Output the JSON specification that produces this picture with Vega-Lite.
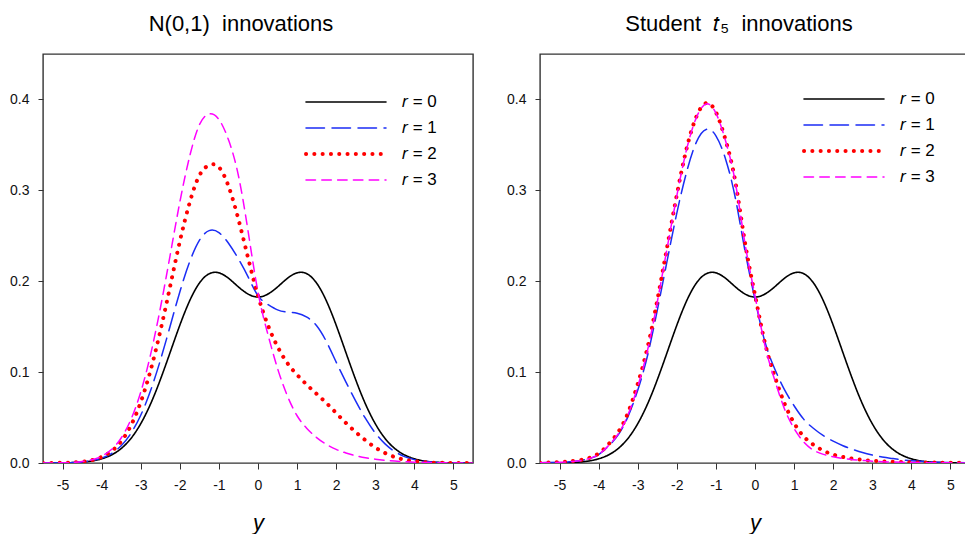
{
"$schema": "https://vega.github.io/schema/vega-lite/v6.json",
"background": "white",
"padding": {"left": 8, "top": 12, "right": 0, "bottom": 0},
"bounds": "flush",
"spacing": 67,
"config": {
  "font": "Liberation Sans",
  "view": {"stroke": "#333", "strokeWidth": 1.4},
  "title": {"font": "Liberation Sans", "fontSize": 22, "fontWeight": "normal", "color": "black", "offset": 18},
  "axis": {"domain": false, "grid": false, "tickColor": "#333", "tickSize": 5, "labelFont": "Liberation Sans", "labelFontSize": 14, "labelColor": "#111", "labelPadding": 8}
},
"datasets": {"d": [
{"p":"N","r":0,"y":-5.5,"d":0},{"p":"N","r":0,"y":-5,"d":0.0002},{"p":"N","r":0,"y":-4.75,"d":0.0004},{"p":"N","r":0,"y":-4.5,"d":0.001},{"p":"N","r":0,"y":-4.25,"d":0.0022},{"p":"N","r":0,"y":-4,"d":0.0046},{"p":"N","r":0,"y":-3.75,"d":0.0088},{"p":"N","r":0,"y":-3.5,"d":0.0159},{"p":"N","r":0,"y":-3.25,"d":0.027},{"p":"N","r":0,"y":-3,"d":0.0432},{"p":"N","r":0,"y":-2.75,"d":0.0648},{"p":"N","r":0,"y":-2.5,"d":0.0915},{"p":"N","r":0,"y":-2.25,"d":0.1214},{"p":"N","r":0,"y":-2,"d":0.1516},{"p":"N","r":0,"y":-1.75,"d":0.1783},{"p":"N","r":0,"y":-1.5,"d":0.1979},{"p":"N","r":0,"y":-1.25,"d":0.2082},{"p":"N","r":0,"y":-1,"d":0.2092},{"p":"N","r":0,"y":-0.75,"d":0.2031},{"p":"N","r":0,"y":-0.5,"d":0.1937},{"p":"N","r":0,"y":-0.25,"d":0.1858},{"p":"N","r":0,"y":0,"d":0.1826},{"p":"N","r":0,"y":0.25,"d":0.1858},{"p":"N","r":0,"y":0.5,"d":0.1937},{"p":"N","r":0,"y":0.75,"d":0.2031},{"p":"N","r":0,"y":1,"d":0.2092},{"p":"N","r":0,"y":1.25,"d":0.2082},{"p":"N","r":0,"y":1.5,"d":0.1979},{"p":"N","r":0,"y":1.75,"d":0.1783},{"p":"N","r":0,"y":2,"d":0.1516},{"p":"N","r":0,"y":2.25,"d":0.1214},{"p":"N","r":0,"y":2.5,"d":0.0915},{"p":"N","r":0,"y":2.75,"d":0.0648},{"p":"N","r":0,"y":3,"d":0.0432},{"p":"N","r":0,"y":3.25,"d":0.027},{"p":"N","r":0,"y":3.5,"d":0.0159},{"p":"N","r":0,"y":3.75,"d":0.0088},{"p":"N","r":0,"y":4,"d":0.0046},{"p":"N","r":0,"y":4.25,"d":0.0022},{"p":"N","r":0,"y":4.5,"d":0.001},{"p":"N","r":0,"y":4.75,"d":0.0004},{"p":"N","r":0,"y":5,"d":0.0002},{"p":"N","r":0,"y":5.5,"d":0},
{"p":"N","r":1,"y":-5.5,"d":0},{"p":"N","r":1,"y":-5,"d":0.0002},{"p":"N","r":1,"y":-4.75,"d":0.0005},{"p":"N","r":1,"y":-4.5,"d":0.0012},{"p":"N","r":1,"y":-4.25,"d":0.0026},{"p":"N","r":1,"y":-4,"d":0.0054},{"p":"N","r":1,"y":-3.75,"d":0.0104},{"p":"N","r":1,"y":-3.5,"d":0.019},{"p":"N","r":1,"y":-3.25,"d":0.0327},{"p":"N","r":1,"y":-3,"d":0.0526},{"p":"N","r":1,"y":-2.75,"d":0.0794},{"p":"N","r":1,"y":-2.5,"d":0.1127},{"p":"N","r":1,"y":-2.25,"d":0.1502},{"p":"N","r":1,"y":-2,"d":0.1882},{"p":"N","r":1,"y":-1.75,"d":0.2211},{"p":"N","r":1,"y":-1.5,"d":0.2449},{"p":"N","r":1,"y":-1.25,"d":0.2557},{"p":"N","r":1,"y":-1,"d":0.2535},{"p":"N","r":1,"y":-0.75,"d":0.2415},{"p":"N","r":1,"y":-0.5,"d":0.2245},{"p":"N","r":1,"y":-0.25,"d":0.2045},{"p":"N","r":1,"y":0,"d":0.184},{"p":"N","r":1,"y":0.25,"d":0.1745},{"p":"N","r":1,"y":0.5,"d":0.1685},{"p":"N","r":1,"y":0.75,"d":0.166},{"p":"N","r":1,"y":1,"d":0.1648},{"p":"N","r":1,"y":1.25,"d":0.1605},{"p":"N","r":1,"y":1.5,"d":0.151},{"p":"N","r":1,"y":1.75,"d":0.1335},{"p":"N","r":1,"y":2,"d":0.111},{"p":"N","r":1,"y":2.25,"d":0.089},{"p":"N","r":1,"y":2.5,"d":0.068},{"p":"N","r":1,"y":2.75,"d":0.049},{"p":"N","r":1,"y":3,"d":0.033},{"p":"N","r":1,"y":3.25,"d":0.021},{"p":"N","r":1,"y":3.5,"d":0.0125},{"p":"N","r":1,"y":3.75,"d":0.007},{"p":"N","r":1,"y":4,"d":0.0037},{"p":"N","r":1,"y":4.25,"d":0.0018},{"p":"N","r":1,"y":4.5,"d":0.0008},{"p":"N","r":1,"y":4.75,"d":0.0003},{"p":"N","r":1,"y":5,"d":0.0001},{"p":"N","r":1,"y":5.5,"d":0},
{"p":"N","r":2,"y":-5.5,"d":0},{"p":"N","r":2,"y":-5,"d":0.0002},{"p":"N","r":2,"y":-4.75,"d":0.0006},{"p":"N","r":2,"y":-4.5,"d":0.0014},{"p":"N","r":2,"y":-4.25,"d":0.0031},{"p":"N","r":2,"y":-4,"d":0.0066},{"p":"N","r":2,"y":-3.75,"d":0.0129},{"p":"N","r":2,"y":-3.5,"d":0.0238},{"p":"N","r":2,"y":-3.25,"d":0.0413},{"p":"N","r":2,"y":-3,"d":0.0669},{"p":"N","r":2,"y":-2.75,"d":0.1017},{"p":"N","r":2,"y":-2.5,"d":0.1449},{"p":"N","r":2,"y":-2.25,"d":0.1939},{"p":"N","r":2,"y":-2,"d":0.2437},{"p":"N","r":2,"y":-1.75,"d":0.2862},{"p":"N","r":2,"y":-1.5,"d":0.3163},{"p":"N","r":2,"y":-1.25,"d":0.3277},{"p":"N","r":2,"y":-1,"d":0.3255},{"p":"N","r":2,"y":-0.75,"d":0.304},{"p":"N","r":2,"y":-0.5,"d":0.268},{"p":"N","r":2,"y":-0.25,"d":0.225},{"p":"N","r":2,"y":0,"d":0.184},{"p":"N","r":2,"y":0.25,"d":0.152},{"p":"N","r":2,"y":0.5,"d":0.128},{"p":"N","r":2,"y":0.75,"d":0.11},{"p":"N","r":2,"y":1,"d":0.097},{"p":"N","r":2,"y":1.25,"d":0.086},{"p":"N","r":2,"y":1.5,"d":0.076},{"p":"N","r":2,"y":1.75,"d":0.066},{"p":"N","r":2,"y":2,"d":0.055},{"p":"N","r":2,"y":2.25,"d":0.044},{"p":"N","r":2,"y":2.5,"d":0.034},{"p":"N","r":2,"y":2.75,"d":0.025},{"p":"N","r":2,"y":3,"d":0.017},{"p":"N","r":2,"y":3.25,"d":0.011},{"p":"N","r":2,"y":3.5,"d":0.0065},{"p":"N","r":2,"y":3.75,"d":0.0036},{"p":"N","r":2,"y":4,"d":0.0019},{"p":"N","r":2,"y":4.25,"d":0.0009},{"p":"N","r":2,"y":4.5,"d":0.0004},{"p":"N","r":2,"y":4.75,"d":0.0002},{"p":"N","r":2,"y":5,"d":0.0001},{"p":"N","r":2,"y":5.5,"d":0},
{"p":"N","r":3,"y":-5.5,"d":0},{"p":"N","r":3,"y":-5,"d":0.0002},{"p":"N","r":3,"y":-4.75,"d":0.0006},{"p":"N","r":3,"y":-4.5,"d":0.0016},{"p":"N","r":3,"y":-4.25,"d":0.0035},{"p":"N","r":3,"y":-4,"d":0.0075},{"p":"N","r":3,"y":-3.75,"d":0.0148},{"p":"N","r":3,"y":-3.5,"d":0.0275},{"p":"N","r":3,"y":-3.25,"d":0.048},{"p":"N","r":3,"y":-3,"d":0.078},{"p":"N","r":3,"y":-2.75,"d":0.119},{"p":"N","r":3,"y":-2.5,"d":0.17},{"p":"N","r":3,"y":-2.25,"d":0.228},{"p":"N","r":3,"y":-2,"d":0.287},{"p":"N","r":3,"y":-1.75,"d":0.337},{"p":"N","r":3,"y":-1.5,"d":0.372},{"p":"N","r":3,"y":-1.25,"d":0.384},{"p":"N","r":3,"y":-1,"d":0.378},{"p":"N","r":3,"y":-0.75,"d":0.355},{"p":"N","r":3,"y":-0.5,"d":0.316},{"p":"N","r":3,"y":-0.25,"d":0.254},{"p":"N","r":3,"y":0,"d":0.188},{"p":"N","r":3,"y":0.25,"d":0.142},{"p":"N","r":3,"y":0.5,"d":0.104},{"p":"N","r":3,"y":0.75,"d":0.074},{"p":"N","r":3,"y":1,"d":0.052},{"p":"N","r":3,"y":1.25,"d":0.038},{"p":"N","r":3,"y":1.5,"d":0.028},{"p":"N","r":3,"y":1.75,"d":0.0205},{"p":"N","r":3,"y":2,"d":0.015},{"p":"N","r":3,"y":2.25,"d":0.011},{"p":"N","r":3,"y":2.5,"d":0.008},{"p":"N","r":3,"y":2.75,"d":0.0058},{"p":"N","r":3,"y":3,"d":0.0042},{"p":"N","r":3,"y":3.25,"d":0.003},{"p":"N","r":3,"y":3.5,"d":0.0021},{"p":"N","r":3,"y":3.75,"d":0.0014},{"p":"N","r":3,"y":4,"d":0.0009},{"p":"N","r":3,"y":4.25,"d":0.0006},{"p":"N","r":3,"y":4.5,"d":0.0004},{"p":"N","r":3,"y":4.75,"d":0.0002},{"p":"N","r":3,"y":5,"d":0.0001},{"p":"N","r":3,"y":5.5,"d":0},
{"p":"T","r":0,"y":-5.5,"d":0},{"p":"T","r":0,"y":-5,"d":0.0002},{"p":"T","r":0,"y":-4.75,"d":0.0004},{"p":"T","r":0,"y":-4.5,"d":0.001},{"p":"T","r":0,"y":-4.25,"d":0.0022},{"p":"T","r":0,"y":-4,"d":0.0046},{"p":"T","r":0,"y":-3.75,"d":0.0088},{"p":"T","r":0,"y":-3.5,"d":0.0159},{"p":"T","r":0,"y":-3.25,"d":0.027},{"p":"T","r":0,"y":-3,"d":0.0432},{"p":"T","r":0,"y":-2.75,"d":0.0648},{"p":"T","r":0,"y":-2.5,"d":0.0915},{"p":"T","r":0,"y":-2.25,"d":0.1214},{"p":"T","r":0,"y":-2,"d":0.1516},{"p":"T","r":0,"y":-1.75,"d":0.1783},{"p":"T","r":0,"y":-1.5,"d":0.1979},{"p":"T","r":0,"y":-1.25,"d":0.2082},{"p":"T","r":0,"y":-1,"d":0.2092},{"p":"T","r":0,"y":-0.75,"d":0.2031},{"p":"T","r":0,"y":-0.5,"d":0.1937},{"p":"T","r":0,"y":-0.25,"d":0.1858},{"p":"T","r":0,"y":0,"d":0.1826},{"p":"T","r":0,"y":0.25,"d":0.1858},{"p":"T","r":0,"y":0.5,"d":0.1937},{"p":"T","r":0,"y":0.75,"d":0.2031},{"p":"T","r":0,"y":1,"d":0.2092},{"p":"T","r":0,"y":1.25,"d":0.2082},{"p":"T","r":0,"y":1.5,"d":0.1979},{"p":"T","r":0,"y":1.75,"d":0.1783},{"p":"T","r":0,"y":2,"d":0.1516},{"p":"T","r":0,"y":2.25,"d":0.1214},{"p":"T","r":0,"y":2.5,"d":0.0915},{"p":"T","r":0,"y":2.75,"d":0.0648},{"p":"T","r":0,"y":3,"d":0.0432},{"p":"T","r":0,"y":3.25,"d":0.027},{"p":"T","r":0,"y":3.5,"d":0.0159},{"p":"T","r":0,"y":3.75,"d":0.0088},{"p":"T","r":0,"y":4,"d":0.0046},{"p":"T","r":0,"y":4.25,"d":0.0022},{"p":"T","r":0,"y":4.5,"d":0.001},{"p":"T","r":0,"y":4.75,"d":0.0004},{"p":"T","r":0,"y":5,"d":0.0002},{"p":"T","r":0,"y":5.5,"d":0},
{"p":"T","r":1,"y":-5.5,"d":0.0003},{"p":"T","r":1,"y":-5,"d":0.0008},{"p":"T","r":1,"y":-4.75,"d":0.0014},{"p":"T","r":1,"y":-4.5,"d":0.0025},{"p":"T","r":1,"y":-4.25,"d":0.0047},{"p":"T","r":1,"y":-4,"d":0.0093},{"p":"T","r":1,"y":-3.75,"d":0.0185},{"p":"T","r":1,"y":-3.5,"d":0.031},{"p":"T","r":1,"y":-3.25,"d":0.051},{"p":"T","r":1,"y":-3,"d":0.08},{"p":"T","r":1,"y":-2.75,"d":0.118},{"p":"T","r":1,"y":-2.5,"d":0.168},{"p":"T","r":1,"y":-2.25,"d":0.222},{"p":"T","r":1,"y":-2,"d":0.275},{"p":"T","r":1,"y":-1.75,"d":0.32},{"p":"T","r":1,"y":-1.5,"d":0.353},{"p":"T","r":1,"y":-1.25,"d":0.367},{"p":"T","r":1,"y":-1,"d":0.36},{"p":"T","r":1,"y":-0.75,"d":0.334},{"p":"T","r":1,"y":-0.5,"d":0.291},{"p":"T","r":1,"y":-0.25,"d":0.232},{"p":"T","r":1,"y":0,"d":0.18},{"p":"T","r":1,"y":0.25,"d":0.134},{"p":"T","r":1,"y":0.5,"d":0.104},{"p":"T","r":1,"y":0.75,"d":0.081},{"p":"T","r":1,"y":1,"d":0.063},{"p":"T","r":1,"y":1.25,"d":0.048},{"p":"T","r":1,"y":1.5,"d":0.038},{"p":"T","r":1,"y":1.75,"d":0.03},{"p":"T","r":1,"y":2,"d":0.024},{"p":"T","r":1,"y":2.25,"d":0.019},{"p":"T","r":1,"y":2.5,"d":0.015},{"p":"T","r":1,"y":2.75,"d":0.0115},{"p":"T","r":1,"y":3,"d":0.0088},{"p":"T","r":1,"y":3.25,"d":0.0066},{"p":"T","r":1,"y":3.5,"d":0.005},{"p":"T","r":1,"y":3.75,"d":0.0036},{"p":"T","r":1,"y":4,"d":0.0026},{"p":"T","r":1,"y":4.25,"d":0.0019},{"p":"T","r":1,"y":4.5,"d":0.0013},{"p":"T","r":1,"y":4.75,"d":0.0009},{"p":"T","r":1,"y":5,"d":0.0006},{"p":"T","r":1,"y":5.5,"d":0.0003},
{"p":"T","r":2,"y":-5.5,"d":0.0004},{"p":"T","r":2,"y":-5,"d":0.001},{"p":"T","r":2,"y":-4.75,"d":0.0017},{"p":"T","r":2,"y":-4.5,"d":0.003},{"p":"T","r":2,"y":-4.25,"d":0.0055},{"p":"T","r":2,"y":-4,"d":0.0105},{"p":"T","r":2,"y":-3.75,"d":0.0205},{"p":"T","r":2,"y":-3.5,"d":0.034},{"p":"T","r":2,"y":-3.25,"d":0.055},{"p":"T","r":2,"y":-3,"d":0.087},{"p":"T","r":2,"y":-2.75,"d":0.127},{"p":"T","r":2,"y":-2.5,"d":0.179},{"p":"T","r":2,"y":-2.25,"d":0.237},{"p":"T","r":2,"y":-2,"d":0.295},{"p":"T","r":2,"y":-1.75,"d":0.346},{"p":"T","r":2,"y":-1.5,"d":0.381},{"p":"T","r":2,"y":-1.25,"d":0.396},{"p":"T","r":2,"y":-1,"d":0.386},{"p":"T","r":2,"y":-0.75,"d":0.355},{"p":"T","r":2,"y":-0.5,"d":0.309},{"p":"T","r":2,"y":-0.25,"d":0.241},{"p":"T","r":2,"y":0,"d":0.185},{"p":"T","r":2,"y":0.25,"d":0.133},{"p":"T","r":2,"y":0.5,"d":0.096},{"p":"T","r":2,"y":0.75,"d":0.066},{"p":"T","r":2,"y":1,"d":0.044},{"p":"T","r":2,"y":1.25,"d":0.029},{"p":"T","r":2,"y":1.5,"d":0.02},{"p":"T","r":2,"y":1.75,"d":0.0135},{"p":"T","r":2,"y":2,"d":0.0093},{"p":"T","r":2,"y":2.25,"d":0.0066},{"p":"T","r":2,"y":2.5,"d":0.0047},{"p":"T","r":2,"y":2.75,"d":0.0034},{"p":"T","r":2,"y":3,"d":0.0025},{"p":"T","r":2,"y":3.25,"d":0.0019},{"p":"T","r":2,"y":3.5,"d":0.0014},{"p":"T","r":2,"y":3.75,"d":0.0011},{"p":"T","r":2,"y":4,"d":0.0008},{"p":"T","r":2,"y":4.25,"d":0.0006},{"p":"T","r":2,"y":4.5,"d":0.0005},{"p":"T","r":2,"y":4.75,"d":0.0004},{"p":"T","r":2,"y":5,"d":0.0003},{"p":"T","r":2,"y":5.5,"d":0.0002},
{"p":"T","r":3,"y":-5.5,"d":0.0003},{"p":"T","r":3,"y":-5,"d":0.0008},{"p":"T","r":3,"y":-4.75,"d":0.0014},{"p":"T","r":3,"y":-4.5,"d":0.0025},{"p":"T","r":3,"y":-4.25,"d":0.0048},{"p":"T","r":3,"y":-4,"d":0.0095},{"p":"T","r":3,"y":-3.75,"d":0.019},{"p":"T","r":3,"y":-3.5,"d":0.032},{"p":"T","r":3,"y":-3.25,"d":0.053},{"p":"T","r":3,"y":-3,"d":0.084},{"p":"T","r":3,"y":-2.75,"d":0.124},{"p":"T","r":3,"y":-2.5,"d":0.177},{"p":"T","r":3,"y":-2.25,"d":0.236},{"p":"T","r":3,"y":-2,"d":0.294},{"p":"T","r":3,"y":-1.75,"d":0.345},{"p":"T","r":3,"y":-1.5,"d":0.38},{"p":"T","r":3,"y":-1.25,"d":0.395},{"p":"T","r":3,"y":-1,"d":0.385},{"p":"T","r":3,"y":-0.75,"d":0.354},{"p":"T","r":3,"y":-0.5,"d":0.308},{"p":"T","r":3,"y":-0.25,"d":0.24},{"p":"T","r":3,"y":0,"d":0.184},{"p":"T","r":3,"y":0.25,"d":0.13},{"p":"T","r":3,"y":0.5,"d":0.092},{"p":"T","r":3,"y":0.75,"d":0.06},{"p":"T","r":3,"y":1,"d":0.038},{"p":"T","r":3,"y":1.25,"d":0.023},{"p":"T","r":3,"y":1.5,"d":0.014},{"p":"T","r":3,"y":1.75,"d":0.0095},{"p":"T","r":3,"y":2,"d":0.0068},{"p":"T","r":3,"y":2.25,"d":0.005},{"p":"T","r":3,"y":2.5,"d":0.0037},{"p":"T","r":3,"y":2.75,"d":0.0028},{"p":"T","r":3,"y":3,"d":0.002},{"p":"T","r":3,"y":3.25,"d":0.0015},{"p":"T","r":3,"y":3.5,"d":0.0011},{"p":"T","r":3,"y":3.75,"d":0.0008},{"p":"T","r":3,"y":4,"d":0.0006},{"p":"T","r":3,"y":4.25,"d":0.0005},{"p":"T","r":3,"y":4.5,"d":0.0003},{"p":"T","r":3,"y":4.75,"d":0.0002},{"p":"T","r":3,"y":5,"d":0.00015},{"p":"T","r":3,"y":5.5,"d":0.0001}
]},
"resolve": {
  "scale": {"color": "independent", "strokeDash": "independent", "strokeWidth": "independent"},
  "legend": {"color": "independent", "strokeDash": "independent", "strokeWidth": "independent"}
},
"hconcat": [
{
  "width": 430, "height": 409,
  "title": {"text": "N(0,1)\u00a0\u00a0innovations", "dx": -17},
  "data": {"name": "d"},
  "transform": [{"filter": "datum.p == 'N'"}],
  "mark": {"type": "line", "interpolate": "natural", "strokeCap": "round", "clip": true},
  "encoding": {
    "x": {"field": "y", "type": "quantitative", "scale": {"domain": [-5.5, 5.5], "nice": false, "zero": false},
          "axis": {"values": [-5,-4,-3,-2,-1,0,1,2,3,4,5], "labelExpr": "'' + datum.value", "tickSize": 6, "title": "y", "titleFontStyle": "italic", "titleFontSize": 22, "titleFontWeight": "normal", "titleColor": "black", "titlePadding": 20, "labelPadding": 9}},
    "y": {"field": "d", "type": "quantitative", "scale": {"domain": [0, 0.45], "nice": false},
          "axis": {"values": [0, 0.1, 0.2, 0.3, 0.4], "format": ".1f", "title": null, "labelPadding": 9}},
    "color": {"field": "r", "type": "nominal", "scale": {"domain": [0,1,2,3], "range": ["#000000", "#1b2df5", "#ff0000", "#ff00ff"]},
              "legend": {"orient": "none", "legendX": 261, "legendY": 38, "title": null, "symbolType": "stroke", "symbolSize": 6400, "clipHeight": 20, "rowPadding": 6, "labelOffset": 14, "labelFontSize": 17, "labelColor": "black", "labelFont": "Liberation Sans", "padding": 0, "labelExpr": "'𝑟 = ' + datum.label",
                         "encode": {"symbols": {"update": {"strokeCap": {"value": "round"}}}}}},
    "strokeDash": {"field": "r", "type": "nominal", "scale": {"domain": [0,1,2,3], "range": [[1,0],[18.5,7.5],[0.1,8.2],[9.5,6.3]]}},
    "strokeWidth": {"field": "r", "type": "nominal", "scale": {"type": "ordinal", "domain": [0,1,2,3], "range": [1.6, 1.5, 4, 1.5]}}
  }
},
{
  "width": 430, "height": 409,
  "title": {"text": "Student\u00a0\u00a0𝑡₅\u00a0\u00a0innovations", "dx": -16},
  "data": {"name": "d"},
  "transform": [{"filter": "datum.p == 'T'"}],
  "mark": {"type": "line", "interpolate": "natural", "strokeCap": "round", "clip": true},
  "encoding": {
    "x": {"field": "y", "type": "quantitative", "scale": {"domain": [-5.5, 5.5], "nice": false, "zero": false},
          "axis": {"values": [-5,-4,-3,-2,-1,0,1,2,3,4,5], "labelExpr": "'' + datum.value", "tickSize": 6, "title": "y", "titleFontStyle": "italic", "titleFontSize": 22, "titleFontWeight": "normal", "titleColor": "black", "titlePadding": 20, "labelPadding": 9}},
    "y": {"field": "d", "type": "quantitative", "scale": {"domain": [0, 0.45], "nice": false},
          "axis": {"values": [0, 0.1, 0.2, 0.3, 0.4], "format": ".1f", "title": null, "labelPadding": 9}},
    "color": {"field": "r", "type": "nominal", "scale": {"domain": [0,1,2,3], "range": ["#000000", "#1b2df5", "#ff0000", "#ff00ff"]},
              "legend": {"orient": "none", "legendX": 262, "legendY": 35, "title": null, "symbolType": "stroke", "symbolSize": 6400, "clipHeight": 20, "rowPadding": 6, "labelOffset": 14, "labelFontSize": 17, "labelColor": "black", "labelFont": "Liberation Sans", "padding": 0, "labelExpr": "'𝑟 = ' + datum.label",
                         "encode": {"symbols": {"update": {"strokeCap": {"value": "round"}}}}}},
    "strokeDash": {"field": "r", "type": "nominal", "scale": {"domain": [0,1,2,3], "range": [[1,0],[18.5,7.5],[0.1,8.2],[9.5,6.3]]}},
    "strokeWidth": {"field": "r", "type": "nominal", "scale": {"type": "ordinal", "domain": [0,1,2,3], "range": [1.6, 1.5, 4, 1.5]}}
  }
}
]
}
